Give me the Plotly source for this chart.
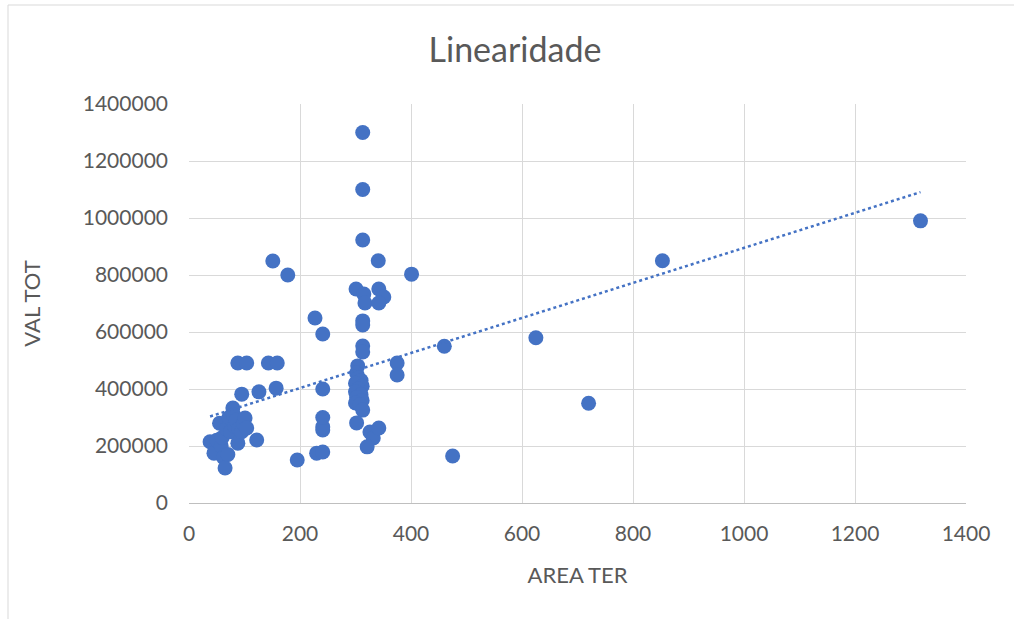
import numpy as np
import plotly.graph_objects as go

area_ter = [
    # left cluster
    38, 45, 50, 55, 58, 60, 62, 65, 68, 70, 72, 75, 79, 80, 82, 85, 88, 90, 95, 98, 101, 104, 122,
    # 80-180 band
    88, 104, 143, 159, 95, 126, 157, 151, 178,
    # 195-245
    195, 230, 241, 241, 241, 241, 241, 227, 241,
    # column around 300-315
    313, 313, 313, 301, 315, 317, 313, 313, 313, 313, 304, 302, 305, 310, 300,
    312, 305, 300, 310, 302, 312, 300, 308, 313, 302, 326, 332, 342, 321,
    # 340-400
    341, 342, 351, 342, 375, 375, 401,
    # right side
    460, 475, 625, 720, 853, 1318,
]
val_tot = [
    215000, 175000, 220000, 280000, 200000, 230000, 160000, 123000, 260000, 170000, 300000, 250000,
    333000, 310000, 270000, 290000, 210000, 260000, 250000, 280000, 298000, 263000, 221000,
    491000, 491000, 491000, 491000, 382000, 390000, 403000, 849000, 800000,
    151000, 175000, 179000, 256000, 267000, 300000, 400000, 649000, 593000,
    1300000, 1100000, 923000, 751000, 733000, 702000, 639000, 625000, 551000, 530000, 481000, 456000, 440000, 430000, 420000,
    410000, 400000, 390000, 380000, 370000, 360000, 351000, 345000, 326000, 281000, 249000, 228000, 263000, 197000,
    850000, 751000, 723000, 702000, 491000, 449000, 803000,
    550000, 165000, 580000, 350000, 850000, 990000,
]

x_ticks = [0, 200, 400, 600, 800, 1000, 1200, 1400]
y_ticks = [0, 200000, 400000, 600000, 800000, 1000000, 1200000, 1400000]

blue = "#4472C4"
grey_txt = "#595959"
grid = "#d9d9d9"
font_family = "Lato, 'Open Sans', sans-serif"

xa = np.array(area_ter, dtype=float)
ya = np.array(val_tot, dtype=float)
b, a = np.polyfit(xa, ya, 1)
tx = np.array([xa.min(), xa.max()])
ty = a + b * tx

fig = go.Figure()
fig.add_trace(go.Scatter(
    x=area_ter, y=val_tot, mode="markers",
    marker=dict(color=blue, size=15, line=dict(width=0)),
    showlegend=False, hoverinfo="x+y",
))
fig.add_trace(go.Scatter(
    x=tx, y=ty, mode="lines",
    line=dict(color=blue, width=2.5, dash="dot"),
    showlegend=False, hoverinfo="skip",
))

fig.update_layout(
    width=1014, height=619,
    margin=dict(l=189, r=48, t=104, b=116),
    paper_bgcolor="white", plot_bgcolor="white",
    title=dict(text="Linearidade", x=515 / 1014, xref="container", xanchor="center",
               y=1 - 50 / 619, yref="container", yanchor="middle",
               font=dict(family=font_family, size=34, color=grey_txt)),
    font=dict(family=font_family, size=21, color=grey_txt),
    xaxis=dict(
        range=[0, 1400], tickvals=x_ticks, ticktext=[str(v) for v in x_ticks],
        showgrid=True, gridcolor=grid, gridwidth=1,
        zeroline=False, showline=True, linecolor="#bfbfbf", linewidth=1,
        ticks="", ticklabelstandoff=12,
        title=dict(text="AREA TER", font=dict(family=font_family, size=22, color=grey_txt), standoff=23),
        mirror=False,
    ),
    yaxis=dict(
        range=[0, 1400000], tickvals=y_ticks, ticktext=[str(v) for v in y_ticks],
        showgrid=True, gridcolor=grid, gridwidth=1,
        zeroline=False, showline=False,
        ticks="", ticklabelstandoff=20,
        title=dict(text="VAL TOT", font=dict(family=font_family, size=22, color=grey_txt), standoff=36),
    ),
    shapes=[
        dict(type="line", xref="paper", yref="paper",
             x0=(8 - 189) / 777, x1=(8 - 189) / 777, y0=(503 - 5) / 399, y1=(503 - 640) / 399,
             line=dict(color=grid, width=1)),
        dict(type="line", xref="paper", yref="paper",
             x0=(8 - 189) / 777, x1=(1020 - 189) / 777, y0=(503 - 5) / 399, y1=(503 - 5) / 399,
             line=dict(color=grid, width=1)),
    ],
)

fig.write_html("out.html")
